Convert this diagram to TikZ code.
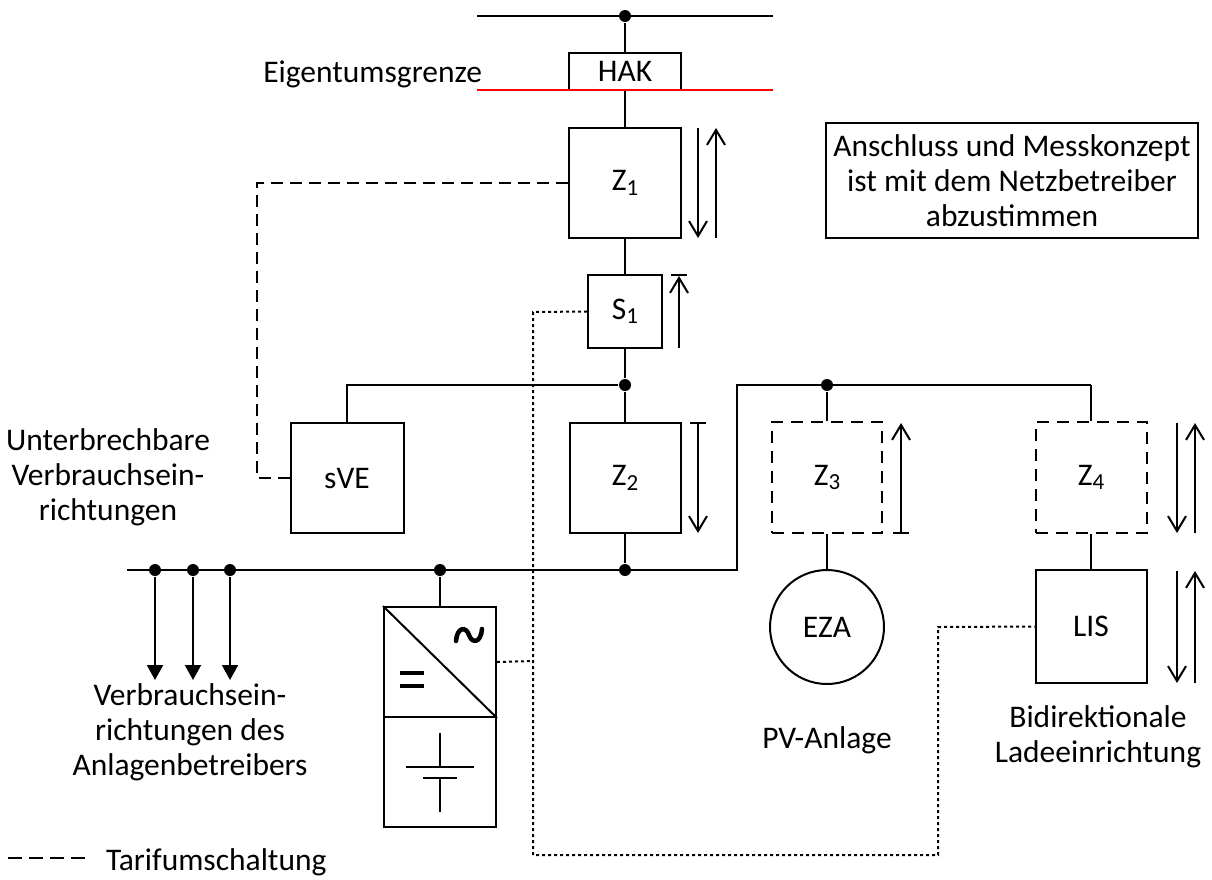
\documentclass[tikz,border=0pt]{standalone}
\usepackage{fontspec}
\setmainfont{Carlito}
\usetikzlibrary{arrows.meta}
\begin{document}
\begin{tikzpicture}[x=1pt,y=-1pt,line width=2pt,
  txt/.style={font=\fontsize{31.5}{35}\selectfont, align=center, inner sep=0},
  box/.style={draw, rectangle, inner sep=0, font=\fontsize{31.5}{35}\selectfont},
  dbox/.style={box, dash pattern=on 12pt off 8pt},
  dot/.style={circle, fill, inner sep=0, minimum size=12pt},
  oarr/.style={-{Straight Barb[length=15pt,width=18pt]}},
  farr/.style={-{Triangle[length=15pt,width=16pt]}},
  tarif/.style={dash pattern=on 12pt off 7pt},
  mess/.style={dash pattern=on 3pt off 3pt}
]
\useasboundingbox (0,0) rectangle (1212,879);
\newcommand{\Zs}[2]{#1\raisebox{-0.3ex}{\fontsize{23}{23}\selectfont #2}}
% top bus and boundary
\coordinate (tl) at (477,16); \coordinate (tr) at (773,16);
\coordinate (rl) at (477,90); \coordinate (rr) at (773,90);
\draw (tl) -- (tr);
\node[dot] (d0) at (625,16) {};
\node[box, minimum width=112pt, minimum height=37pt] (HAK) at (625,71.5) {HAK};
\draw[red, line width=1.5pt] (rl) -- (rr);
\node[txt, anchor=base east] (eg) at (483,82) {Eigentumsgrenze};
% main column
\node[box, minimum width=112pt, minimum height=110pt] (Z1) at (625,183) {\Zs{Z}{1}};
\node[box, minimum width=74pt, minimum height=73pt] (S1) at (625,311.5) {\Zs{S}{1}};
\node[dot] (d1) at (625,385) {};
\node[box, minimum width=111pt, minimum height=110pt] (Z2) at (625,478) {\Zs{Z}{2}};
\node[dot] (d2) at (625,570) {};
\draw (d0) -- (HAK.north);
\draw (HAK.south) -- (Z1.north);
\draw (Z1.south) -- (S1.north);
\draw (S1.south) -- (d1);
\draw (d1) -- (Z2.north);
\draw (Z2.south) -- (d2);
% arrows main column
\draw[oarr] (698,128) -- (698,238);
\draw[oarr] (716,238) -- (716,128);
\draw[oarr] (679,348) -- (679,276);
\draw (671,275) -- (687,275);
\draw[oarr] (698,424) -- (698,533);
\draw (690,423) -- (706,423);
% sVE
\node[box, minimum width=113pt, minimum height=110pt] (sVE) at (347,478) {sVE};
\coordinate (bl) at (347,385);
\draw (d1) -- (bl) -- (sVE.north);
\coordinate (t1) at (257,183);
\draw[tarif] (Z1.west) -- (t1) |- (sVE.west);
\node[txt] (uv) at (108,477) {Unterbrechbare\\Verbrauchsein-\\richtungen};
% lower bus
\coordinate (lb0) at (127,570); \coordinate (lb1) at (737,570); \coordinate (lb2) at (737,385);
\coordinate (rb) at (1091,385);
\draw (lb0) -- (lb1) -- (lb2) -- (rb);
\node[dot] (c1) at (155,570) {};
\node[dot] (c2) at (193,570) {};
\node[dot] (c3) at (230,570) {};
\node[dot] (c4) at (440,570) {};
\node[dot] (d3) at (827,385) {};
\coordinate (e1) at (155,680); \coordinate (e2) at (193,680); \coordinate (e3) at (230,680);
\draw[farr] (c1) -- (e1);
\draw[farr] (c2) -- (e2);
\draw[farr] (c3) -- (e3);
\node[txt] (vl) at (190,732) {Verbrauchsein-\\richtungen des\\Anlagenbetreibers};
% inverter + battery
\node[box, minimum width=112pt, minimum height=110pt] (inv) at (440,662) {};
\node[box, minimum width=112pt, minimum height=110pt] (bat) at (440,772) {};
\draw (c4) -- (inv.north);
\draw (inv.north west) -- (inv.south east);
\draw[line width=4.5pt, line cap=round] (456,641) .. controls (457,627) and (466,626) .. (469,635) .. controls (472,644) and (481,643) .. (482,629);
\draw[line width=4pt] (400,673) -- (424,673);
\draw[line width=4pt] (400,686) -- (424,686);
\draw (440,733) -- (440,767);
\draw (406,767) -- (474,767);
\draw (423,778) -- (457,778);
\draw (440,778) -- (440,812);
% PV
\node[dbox, minimum width=110pt, minimum height=111pt] (Z3) at (827,477.5) {\Zs{Z}{3}};
\node[draw, circle, minimum size=114pt, inner sep=0, font=\fontsize{31.5}{35}\selectfont] (EZA) at (827,627) {EZA};
\draw (d3) -- (Z3.north);
\draw (Z3.south) -- (EZA.north);
\draw[oarr] (901,533) -- (901,423);
\draw (893,533) -- (909,533);
\node[txt] (pv) at (827,740) {PV-Anlage};
% charging
\node[dbox, minimum width=111pt, minimum height=111pt] (Z4) at (1091,477.5) {\Zs{Z}{4}};
\node[box, minimum width=111pt, minimum height=113pt] (LIS) at (1091,626.5) {LIS};
\draw (rb) -- (Z4.north);
\draw (Z4.south) -- (LIS.north);
\draw[oarr] (1177,423) -- (1177,533);
\draw[oarr] (1195,533) -- (1195,423);
\draw[oarr] (1177,571) -- (1177,683);
\draw[oarr] (1195,683) -- (1195,571);
\node[txt] (bd) at (1098,737) {Bidirektionale\\Ladeeinrichtung};
% measurement dotted line
\coordinate (m1) at (533,312); \coordinate (m2) at (533,855);
\coordinate (m3) at (938,855); \coordinate (m4) at (938,627);
\coordinate (m5) at (533,661);
\draw[mess] (S1.west) -- (m1) -- (m2) -- (m3) -- (m4) -- (LIS.west);
\draw[mess] (inv.east) -- (m5);
% note
\node[box, minimum width=372pt, minimum height=115pt, align=center] (note) at (1012,180.5) {Anschluss und Messkonzept\\ist mit dem Netzbetreiber\\abzustimmen};
% legend
\coordinate (lg1) at (8,858); \coordinate (lg2) at (86,858);
\draw[dash pattern=on 14pt off 7pt, line width=1.5pt] (lg1) -- (lg2);
\node[txt, anchor=base west] (lt) at (105,870) {Tarifumschaltung};
\end{tikzpicture}
\end{document}
